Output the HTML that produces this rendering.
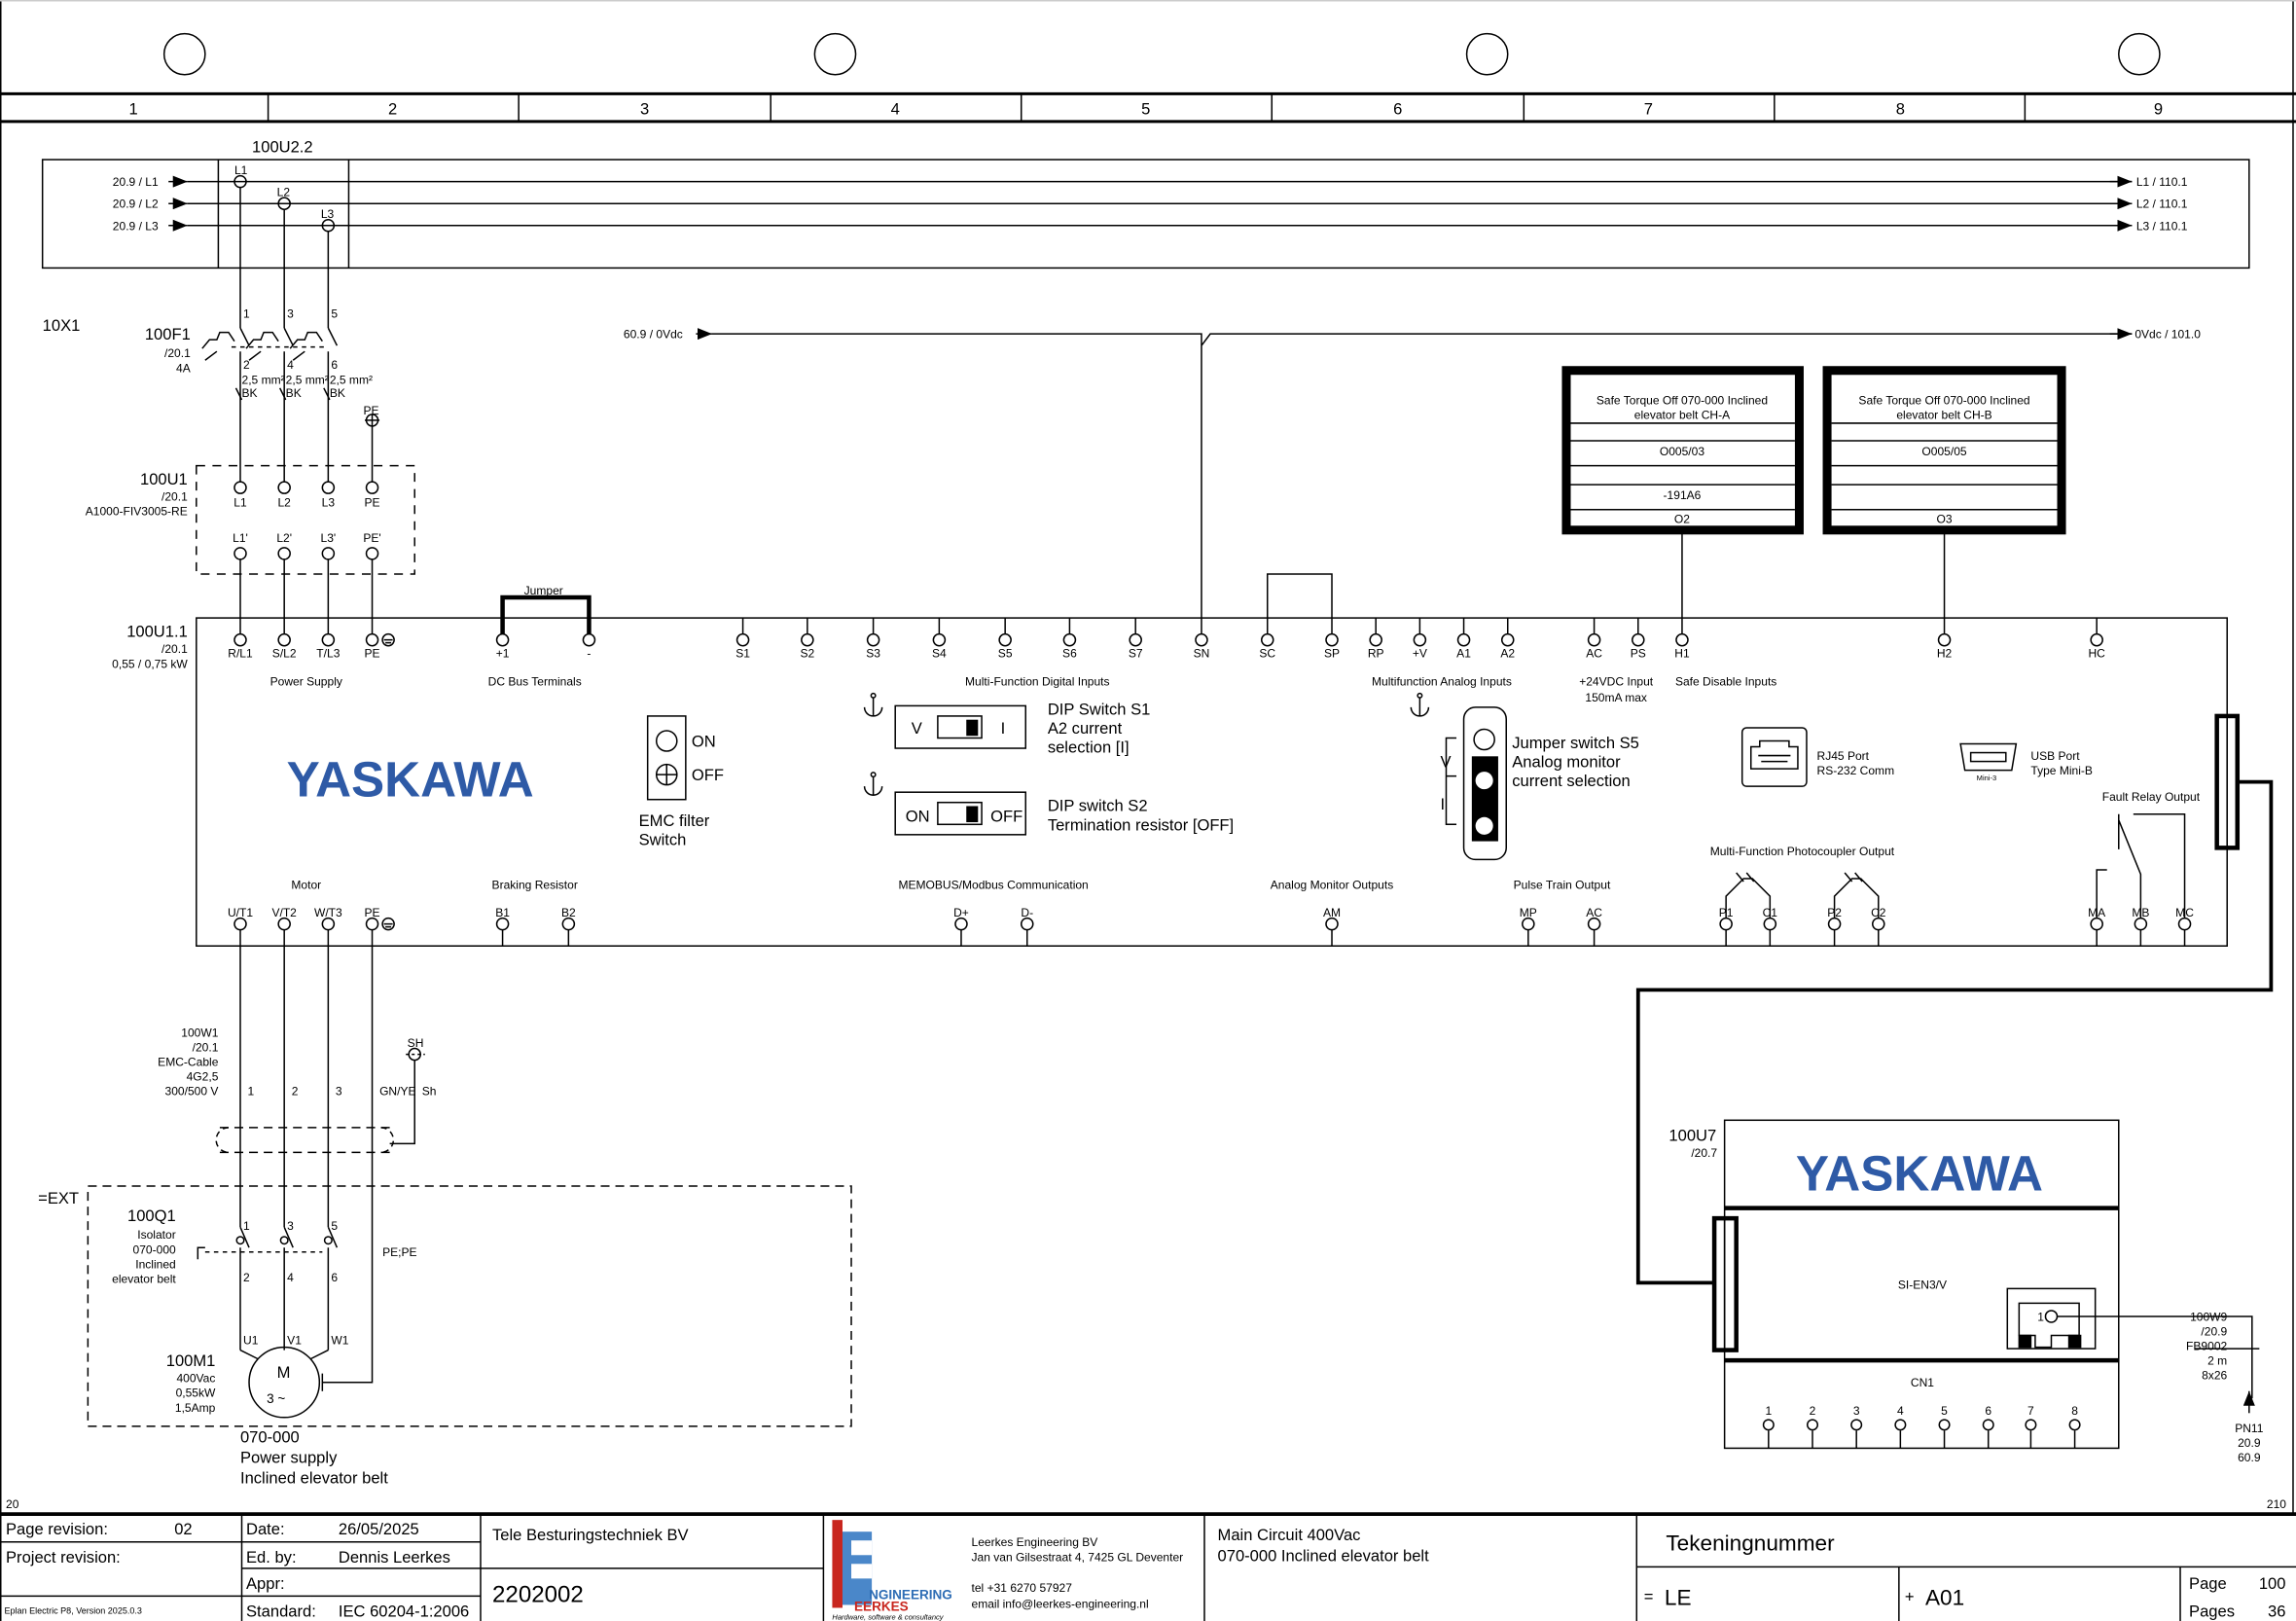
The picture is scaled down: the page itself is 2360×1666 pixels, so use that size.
<!DOCTYPE html>
<html><head><meta charset="utf-8"><style>
html,body{margin:0;padding:0;background:#fff;}
svg{display:block;}
text{font-family:"Liberation Sans",sans-serif;fill:#000;}
</style></head><body>
<svg width="2360" height="1666" viewBox="0 0 1567 1107" preserveAspectRatio="none" xmlns="http://www.w3.org/2000/svg">
<defs>
<marker id="ar" markerWidth="10" markerHeight="8" refX="10" refY="4" orient="auto" markerUnits="userSpaceOnUse"><path d="M0,0 L10,4 L0,8z" fill="#000"/></marker>
</defs>
<g stroke="#000" fill="none" stroke-width="1">
<line x1="0.5" y1="0" x2="0.5" y2="1107"/>
<line x1="1565" y1="0" x2="1565" y2="1034"/>
<line x1="0" y1="0.5" x2="1567" y2="0.5" stroke="#ccc"/>
<circle cx="126" cy="37" r="14"/><circle cx="570" cy="37" r="14"/><circle cx="1015" cy="37" r="14"/><circle cx="1460" cy="37" r="14"/>
<line x1="0" y1="64" x2="1567" y2="64" stroke-width="2"/>
<line x1="0" y1="83" x2="1567" y2="83" stroke-width="2"/>
<path d="M183 64V83M354 64V83M526 64V83M697 64V83M868 64V83M1040 64V83M1211 64V83M1382 64V83"/>
<rect x="29" y="109" width="1506" height="74"/>
<path d="M149 109V183M238 109V183"/>
<line x1="115" y1="124" x2="128" y2="124" marker-end="url(#ar)"/>
<line x1="115" y1="139" x2="128" y2="139" marker-end="url(#ar)"/>
<line x1="115" y1="154" x2="128" y2="154" marker-end="url(#ar)"/>
<path d="M128 124H1455M128 139H1455M128 154H1455"/>
<line x1="1440" y1="124" x2="1455" y2="124" marker-end="url(#ar)"/>
<line x1="1440" y1="139" x2="1455" y2="139" marker-end="url(#ar)"/>
<line x1="1440" y1="154" x2="1455" y2="154" marker-end="url(#ar)"/>
<path d="M164 128V224M194 143V224M224 158V224M164 240V329M194 240V329M224 240V329M164 382V433M194 382V433M224 382V433M254 382V433M254 291V329"/>
<path d="M254 283V291"/>
<circle cx="254" cy="287" r="4"/><line x1="249" y1="287" x2="259" y2="287"/>
<path d="M164 224L170 236M194 224L200 236M224 224L230 236" />
<path d="M158 237H224" stroke-dasharray="3,3"/>
<path d="M138 238l5-6h5l2-5h6l4 6M168 238l5-6h5l2-5h6l4 6M198 238l5-6h5l2-5h6l4 6"/>
<path d="M148 240l-8 6M178 240l-8 6M208 240l-8 6"/>
<path d="M161 265l4 8M191 265l4 8M221 265l4 8"/>
<rect x="134" y="318" width="149" height="74" stroke-dasharray="6,5"/>
<line x1="475" y1="228" x2="486" y2="228" marker-end="url(#ar)"/>
<path d="M486 228H820V433M820 236L826 228H1455"/>
<line x1="1440" y1="228" x2="1455" y2="228" marker-end="url(#ar)"/>
<rect x="134" y="422" width="1386" height="224"/>
<path d="M343 433V408H402V433" stroke-width="3"/>
<path d="M865 433V392H909V433"/>
<path d="M1148 433V362M1327 433V362"/>
<rect x="1069" y="253" width="159" height="109" stroke-width="6"/>
<rect x="1247" y="253" width="160" height="109" stroke-width="6"/>
<path d="M1072 289H1225M1072 301H1225M1072 318H1225M1072 331H1225M1072 348H1225"/>
<path d="M1250 289H1404M1250 301H1404M1250 318H1404M1250 331H1404M1250 348H1404"/>
<g>
<circle cx="164" cy="437" r="4"/><circle cx="194" cy="437" r="4"/><circle cx="224" cy="437" r="4"/><circle cx="254" cy="437" r="4"/>
<circle cx="343" cy="437" r="4"/><circle cx="402" cy="437" r="4"/>
<circle cx="507" cy="437" r="4"/><circle cx="551" cy="437" r="4"/><circle cx="596" cy="437" r="4"/><circle cx="641" cy="437" r="4"/><circle cx="686" cy="437" r="4"/><circle cx="730" cy="437" r="4"/><circle cx="775" cy="437" r="4"/><circle cx="820" cy="437" r="4"/><circle cx="865" cy="437" r="4"/><circle cx="909" cy="437" r="4"/><circle cx="939" cy="437" r="4"/><circle cx="969" cy="437" r="4"/><circle cx="999" cy="437" r="4"/><circle cx="1029" cy="437" r="4"/><circle cx="1088" cy="437" r="4"/><circle cx="1118" cy="437" r="4"/><circle cx="1148" cy="437" r="4"/><circle cx="1327" cy="437" r="4"/><circle cx="1431" cy="437" r="4"/>
<path d="M507 422V433M551 422V433M596 422V433M641 422V433M686 422V433M730 422V433M775 422V433M939 422V433M969 422V433M999 422V433M1029 422V433M1088 422V433M1118 422V433M1431 422V433"/>
</g>
<circle cx="265" cy="437" r="4"/><path d="M262 437H268M263 439H267"/>
<circle cx="265" cy="631" r="4"/><path d="M262 631H268M263 633H267"/>
<circle cx="164" cy="333" r="4"/><circle cx="194" cy="333" r="4"/><circle cx="224" cy="333" r="4"/><circle cx="254" cy="333" r="4"/>
<circle cx="164" cy="378" r="4"/><circle cx="194" cy="378" r="4"/><circle cx="224" cy="378" r="4"/><circle cx="254" cy="378" r="4"/>
<circle cx="164" cy="124" r="4"/><circle cx="194" cy="139" r="4"/><circle cx="224" cy="154" r="4"/>
<g>
<circle cx="164" cy="631" r="4"/><circle cx="194" cy="631" r="4"/><circle cx="224" cy="631" r="4"/><circle cx="254" cy="631" r="4"/>
<circle cx="343" cy="631" r="4"/><circle cx="388" cy="631" r="4"/><circle cx="656" cy="631" r="4"/><circle cx="701" cy="631" r="4"/><circle cx="909" cy="631" r="4"/><circle cx="1043" cy="631" r="4"/><circle cx="1088" cy="631" r="4"/><circle cx="1178" cy="631" r="4"/><circle cx="1208" cy="631" r="4"/><circle cx="1252" cy="631" r="4"/><circle cx="1282" cy="631" r="4"/><circle cx="1431" cy="631" r="4"/><circle cx="1461" cy="631" r="4"/><circle cx="1491" cy="631" r="4"/>
<path d="M343 635V646M388 635V646M656 635V646M701 635V646M909 635V646M1043 635V646M1088 635V646M1178 635V646M1208 635V646M1252 635V646M1282 635V646M1431 635V646M1461 635V646M1491 635V646"/>
</g>
<path d="M1178 627V612L1190 600H1196L1208 612V627M1185 596L1190 602M1192 596L1197 602"/>
<path d="M1252 627V612L1264 600H1270L1282 612V627M1259 596L1264 602M1266 596L1271 602"/>
<path d="M1431 627V594H1438M1491 627V556H1456M1461 627V597L1446 560M1446 556V580"/>
<rect x="611" y="482" width="89" height="29"/><rect x="640" y="489" width="30" height="15"/><rect x="660" y="492" width="7" height="10" fill="#000"/>
<rect x="611" y="541" width="89" height="29"/><rect x="640" y="548" width="30" height="15"/><rect x="660" y="551" width="7" height="10" fill="#000"/>
<path d="M596 476V489M590 483a6 6 0 0 0 12 0"/><circle cx="596" cy="475" r="1.5"/>
<path d="M596 530V543M590 537a6 6 0 0 0 12 0"/><circle cx="596" cy="529" r="1.5"/>
<path d="M969 476V489M963 483a6 6 0 0 0 12 0"/><circle cx="969" cy="475" r="1.5"/>
<rect x="999" y="483" width="29" height="104" rx="8"/>
<rect x="1005" y="517" width="17" height="57" fill="#000"/>
<circle cx="1013" cy="505" r="7"/><circle cx="1013" cy="533" r="6" fill="#fff" stroke="none"/><circle cx="1013" cy="564" r="6" fill="#fff" stroke="none"/>
<path d="M994 504H987V563H994M987 530H994"/>
<rect x="442" y="489" width="26" height="57"/>
<circle cx="455" cy="506" r="7"/><circle cx="455" cy="529" r="7"/><path d="M448 529H462M455 522V536"/>
<rect x="1189" y="497" width="44" height="40" rx="3"/>
<path d="M1195 525V510h6v-4h20v4h6v15z"/><path d="M1200 516h22M1202 520h18"/>
<path d="M1338 508h38l-3 18h-32z"/><rect x="1345" y="514" width="24" height="6"/>
<rect x="1513" y="489" width="14" height="90" stroke-width="3"/>
<path d="M1520 489V579"/>
<path d="M1527 534H1550V676H1118V876H1170" stroke-width="2.5"/>
<rect x="1170" y="832" width="15" height="90" stroke-width="3"/>
<path d="M1177 832V922"/>
<rect x="1177" y="765" width="269" height="224"/>
<path d="M1177 825H1446M1177 929H1446" stroke-width="3"/>
<rect x="1370" y="880" width="60" height="41"/>
<path d="M1378 890H1419V912H1400V920H1389V912H1378z"/>
<rect x="1378" y="912" width="8" height="8" fill="#000"/><rect x="1412" y="912" width="8" height="8" fill="#000"/>
<circle cx="1400" cy="899" r="4"/>
<path d="M1404 899H1537V955"/><path d="M1498 921H1542"/>
<line x1="1535" y1="965" x2="1535" y2="950" marker-end="url(#ar)"/>
<g>
<circle cx="1207" cy="973" r="3.5"/><circle cx="1237" cy="973" r="3.5"/><circle cx="1267" cy="973" r="3.5"/><circle cx="1297" cy="973" r="3.5"/><circle cx="1327" cy="973" r="3.5"/><circle cx="1357" cy="973" r="3.5"/><circle cx="1386" cy="973" r="3.5"/><circle cx="1416" cy="973" r="3.5"/>
<path d="M1207 977V989M1237 977V989M1267 977V989M1297 977V989M1327 977V989M1357 977V989M1386 977V989M1416 977V989"/>
</g>
<path d="M164 635V838M194 635V838M224 635V838M254 635V944H220"/>
<path d="M283 724V781H266"/>
<circle cx="283" cy="720" r="4"/><path d="M277 720H290" stroke-dasharray="2,2"/>
<path d="M150 770H266M150 787H266" stroke-dasharray="6,4"/>
<path d="M156 770a8 8 0 0 0 0 17M260 770a8 8 0 0 1 0 17" stroke-dasharray="4,3"/>
<rect x="60" y="810" width="521" height="164" stroke-dasharray="6,4"/>
<path d="M164 838L170 852M194 838L200 852M224 838L230 852M164 852V922M194 852V922M224 852V922"/>
<path d="M140 855H220" stroke-dasharray="3,3"/><path d="M135 860V852H140"/>
<circle cx="164" cy="847" r="2.5"/><circle cx="194" cy="847" r="2.5"/><circle cx="224" cy="847" r="2.5"/>
<circle cx="194" cy="944" r="24"/>
<path d="M176 928L164 922M212 928L224 922M220 938V950"/>
<line x1="0" y1="1034" x2="1567" y2="1034" stroke-width="2.5"/>
<path d="M165 1034V1107M328 1034V1107M562 1034V1107M822 1034V1107M1117 1034V1107M1488 1070V1107"/>
<path d="M0 1053H165M0 1090H165M165 1053H328M165 1071H328M165 1090H328M328 1071H562M1117 1070H1567M1296 1070V1107"/>
</g>
<g font-size="11" text-anchor="middle">
<text x="91" y="78">1</text><text x="268" y="78">2</text><text x="440" y="78">3</text><text x="611" y="78">4</text><text x="782" y="78">5</text><text x="954" y="78">6</text><text x="1125" y="78">7</text><text x="1297" y="78">8</text><text x="1473" y="78">9</text>
</g>
<g font-size="8">
<text x="172" y="104" font-size="11">100U2.2</text>
<text x="108" y="127" text-anchor="end">20.9 / L1</text>
<text x="108" y="142" text-anchor="end">20.9 / L2</text>
<text x="108" y="157" text-anchor="end">20.9 / L3</text>
<text x="1458" y="127">L1 / 110.1</text><text x="1458" y="142">L2 / 110.1</text><text x="1458" y="157">L3 / 110.1</text>
<text x="160" y="119">L1</text><text x="189" y="134">L2</text><text x="219" y="149">L3</text>
<text x="29" y="226" font-size="11">10X1</text>
<text x="130" y="232" font-size="11" text-anchor="end">100F1</text>
<text x="130" y="244" text-anchor="end">/20.1</text><text x="130" y="254" text-anchor="end">4A</text>
<text x="166" y="217">1</text><text x="196" y="217">3</text><text x="226" y="217">5</text>
<text x="166" y="252">2</text><text x="196" y="252">4</text><text x="226" y="252">6</text>
<text x="165" y="262">2,5 mm²</text><text x="195" y="262">2,5 mm²</text><text x="225" y="262">2,5 mm²</text>
<text x="165" y="271">BK</text><text x="195" y="271">BK</text><text x="225" y="271">BK</text>
<text x="248" y="283">PE</text>
<text x="128" y="331" font-size="11" text-anchor="end">100U1</text>
<text x="128" y="342" text-anchor="end">/20.1</text><text x="128" y="352" text-anchor="end">A1000-FIV3005-RE</text>
<g text-anchor="middle">
<text x="164" y="346">L1</text><text x="194" y="346">L2</text><text x="224" y="346">L3</text><text x="254" y="346">PE</text>
<text x="164" y="370">L1'</text><text x="194" y="370">L2'</text><text x="224" y="370">L3'</text><text x="254" y="370">PE'</text>
<text x="371" y="406">Jumper</text>
<text x="164" y="449">R/L1</text><text x="194" y="449">S/L2</text><text x="224" y="449">T/L3</text><text x="254" y="449">PE</text>
<text x="343" y="449">+1</text><text x="402" y="449">-</text>
<text x="507" y="449">S1</text><text x="551" y="449">S2</text><text x="596" y="449">S3</text><text x="641" y="449">S4</text><text x="686" y="449">S5</text><text x="730" y="449">S6</text><text x="775" y="449">S7</text><text x="820" y="449">SN</text><text x="865" y="449">SC</text><text x="909" y="449">SP</text><text x="939" y="449">RP</text><text x="969" y="449">+V</text><text x="999" y="449">A1</text><text x="1029" y="449">A2</text><text x="1088" y="449">AC</text><text x="1118" y="449">PS</text><text x="1148" y="449">H1</text><text x="1327" y="449">H2</text><text x="1431" y="449">HC</text>
<text x="209" y="468">Power Supply</text><text x="365" y="468">DC Bus Terminals</text>
<text x="708" y="468">Multi-Function Digital Inputs</text><text x="984" y="468">Multifunction Analog Inputs</text>
<text x="1103" y="468">+24VDC Input</text><text x="1103" y="479">150mA max</text><text x="1178" y="468">Safe Disable Inputs</text>
<text x="1148" y="276">Safe Torque Off 070-000 Inclined</text><text x="1148" y="286">elevator belt CH-A</text>
<text x="1148" y="311">O005/03</text><text x="1148" y="341">-191A6</text><text x="1148" y="357">O2</text>
<text x="1327" y="276">Safe Torque Off 070-000 Inclined</text><text x="1327" y="286">elevator belt CH-B</text>
<text x="1327" y="311">O005/05</text><text x="1327" y="357">O3</text>
<text x="209" y="607">Motor</text><text x="365" y="607">Braking Resistor</text><text x="678" y="607">MEMOBUS/Modbus Communication</text><text x="909" y="607">Analog Monitor Outputs</text><text x="1066" y="607">Pulse Train Output</text>
<text x="1230" y="584">Multi-Function Photocoupler Output</text><text x="1468" y="547">Fault Relay Output</text>
<text x="164" y="626">U/T1</text><text x="194" y="626">V/T2</text><text x="224" y="626">W/T3</text><text x="254" y="626">PE</text>
<text x="343" y="626">B1</text><text x="388" y="626">B2</text><text x="656" y="626">D+</text><text x="701" y="626">D-</text><text x="909" y="626">AM</text><text x="1043" y="626">MP</text><text x="1088" y="626">AC</text><text x="1178" y="626">P1</text><text x="1208" y="626">C1</text><text x="1252" y="626">P2</text><text x="1282" y="626">C2</text><text x="1431" y="626">MA</text><text x="1461" y="626">MB</text><text x="1491" y="626">MC</text>
</g>
<text x="1457" y="231">0Vdc / 101.0</text>
<text x="466" y="231" text-anchor="end">60.9 / 0Vdc</text>
<text x="128" y="435" font-size="11" text-anchor="end">100U1.1</text>
<text x="128" y="446" text-anchor="end">/20.1</text><text x="128" y="456" text-anchor="end">0,55 / 0,75 kW</text>
<text x="1240" y="519">RJ45 Port</text><text x="1240" y="529">RS-232 Comm</text>
<text x="1386" y="519">USB Port</text><text x="1386" y="529">Type Mini-B</text>
<text x="1349" y="533" font-size="5">Mini-3</text>
</g>
<text x="280" y="544" font-size="34" font-weight="bold" style="fill:#2e5aa6" text-anchor="middle">YASKAWA</text>
<text x="1310" y="813" font-size="34" font-weight="bold" style="fill:#2e5aa6" text-anchor="middle">YASKAWA</text>
<g font-size="11">
<text x="472" y="510">ON</text><text x="472" y="533">OFF</text>
<text x="436" y="564">EMC filter</text><text x="436" y="577">Switch</text>
<text x="622" y="501">V</text><text x="683" y="501">I</text>
<text x="618" y="561">ON</text><text x="676" y="561">OFF</text>
<text x="715" y="488">DIP Switch S1</text><text x="715" y="501">A2 current</text><text x="715" y="514">selection [I]</text>
<text x="715" y="554">DIP switch S2</text><text x="715" y="567">Termination resistor [OFF]</text>
<text x="983" y="524">V</text><text x="983" y="553">I</text>
<text x="1032" y="511">Jumper switch S5</text><text x="1032" y="524">Analog monitor</text><text x="1032" y="537">current selection</text>
<text x="1139" y="779">100U7</text>
<text x="1172" y="790" font-size="8" text-anchor="end">/20.7</text>
<text x="1312" y="880" font-size="8" text-anchor="middle">SI-EN3/V</text>
<text x="1312" y="947" font-size="8" text-anchor="middle">CN1</text>
<g font-size="8" text-anchor="middle">
<text x="1207" y="966">1</text><text x="1237" y="966">2</text><text x="1267" y="966">3</text><text x="1297" y="966">4</text><text x="1327" y="966">5</text><text x="1357" y="966">6</text><text x="1386" y="966">7</text><text x="1416" y="966">8</text>
<text x="1535" y="978">PN11</text><text x="1535" y="988">20.9</text><text x="1535" y="998">60.9</text>
</g>
<text x="1395" y="902" font-size="8" text-anchor="end">1</text>
<g font-size="8" text-anchor="end">
<text x="1520" y="902">100W9</text><text x="1520" y="912">/20.9</text><text x="1520" y="922">FB9002</text><text x="1520" y="932">2 m</text><text x="1520" y="942">8x26</text>
<text x="149" y="708">100W1</text><text x="149" y="718">/20.1</text><text x="149" y="728">EMC-Cable</text><text x="149" y="738">4G2,5</text><text x="149" y="748">300/500 V</text>
<text x="120" y="846">Isolator</text><text x="120" y="856">070-000</text><text x="120" y="866">Inclined</text><text x="120" y="876">elevator belt</text>
<text x="147" y="944">400Vac</text><text x="147" y="954">0,55kW</text><text x="147" y="964">1,5Amp</text>
</g>
<g font-size="8">
<text x="169" y="748">1</text><text x="199" y="748">2</text><text x="229" y="748">3</text><text x="259" y="748">GN/YE</text><text x="288" y="748">Sh</text><text x="278" y="715">SH</text>
<text x="166" y="840">1</text><text x="196" y="840">3</text><text x="226" y="840">5</text>
<text x="166" y="875">2</text><text x="196" y="875">4</text><text x="226" y="875">6</text>
<text x="261" y="858">PE;PE</text>
<text x="166" y="918">U1</text><text x="196" y="918">V1</text><text x="226" y="918">W1</text>
</g>
<g font-size="11">
<text x="120" y="834" text-anchor="end">100Q1</text>
<text x="147" y="933" text-anchor="end">100M1</text>
<text x="26" y="822">=EXT</text>
<text x="189" y="941">M</text><text x="182" y="958" font-size="9">3 ~</text>
<text x="164" y="985">070-000</text><text x="164" y="999">Power supply</text><text x="164" y="1013">Inclined elevator belt</text>
</g>
<text x="4" y="1030" font-size="8">20</text><text x="1547" y="1030" font-size="8">210</text>
<g font-size="11">
<text x="4" y="1048">Page revision:</text><text x="119" y="1048">02</text>
<text x="4" y="1067">Project revision:</text>
<text x="168" y="1048">Date:</text><text x="231" y="1048">26/05/2025</text>
<text x="168" y="1067">Ed. by:</text><text x="231" y="1067">Dennis Leerkes</text>
<text x="168" y="1085">Appr:</text>
<text x="168" y="1104">Standard:</text><text x="231" y="1104">IEC 60204-1:2006</text>
<text x="336" y="1052">Tele Besturingstechniek BV</text>
<text x="336" y="1094" font-size="16">2202002</text>
<text x="831" y="1052">Main Circuit 400Vac</text><text x="831" y="1066">070-000 Inclined elevator belt</text>
<text x="1137" y="1059" font-size="15">Tekeningnummer</text>
<text x="1122" y="1094">=</text><text x="1136" y="1096" font-size="15">LE</text>
<text x="1300" y="1094">+</text><text x="1314" y="1096" font-size="15">A01</text>
<text x="1494" y="1085">Page</text><text x="1560" y="1085" text-anchor="end">100</text>
<text x="1494" y="1104">Pages</text><text x="1560" y="1104" text-anchor="end">36</text>
</g>
<text x="3" y="1102" font-size="6">Eplan Electric P8, Version 2025.0.3</text>
<g font-size="8">
<text x="663" y="1056">Leerkes Engineering BV</text><text x="663" y="1066">Jan van Gilsestraat 4, 7425 GL Deventer</text>
<text x="663" y="1087">tel +31 6270 57927</text><text x="663" y="1098">email info@leerkes-engineering.nl</text>
</g>
<rect x="568" y="1038" width="7" height="60" fill="#c8261e"/>
<rect x="575" y="1046" width="20" height="50" fill="#4a87c9"/>
<rect x="581" y="1052" width="14" height="10" fill="#fff"/><rect x="581" y="1068" width="14" height="10" fill="#fff"/>
<text x="593" y="1092" font-size="9" font-weight="bold" style="fill:#2e6db5">NGINEERING</text>
<text x="583" y="1100" font-size="9" font-weight="bold" style="fill:#c8261e">EERKES</text>
<text x="568" y="1106" font-size="5" font-style="italic">Hardware, software &amp; consultancy</text>
</svg>
</body></html>
